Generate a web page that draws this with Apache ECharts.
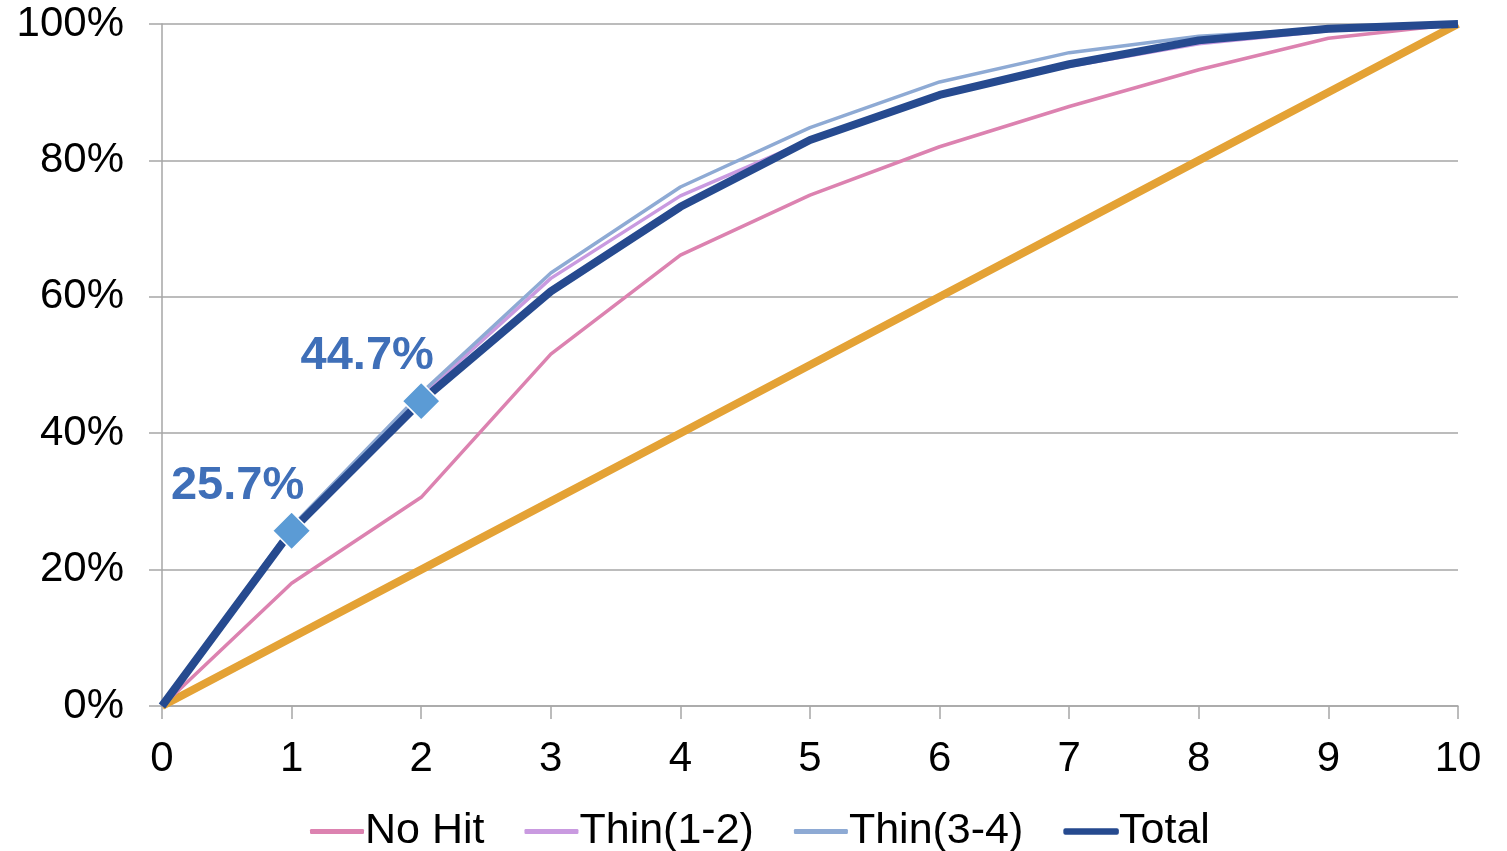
<!DOCTYPE html>
<html>
<head>
<meta charset="utf-8">
<script src="https://cdn.jsdelivr.net/npm/echarts@6/dist/echarts.min.js"></script>
<style>html,body{margin:0;padding:0;background:#fff}#c{width:1507px;height:851px}</style>
</head>
<body>
<div id="c"></div>
<script>
const xValues = [0, 1, 2, 3, 4, 5, 6, 7, 8, 9, 10];
const noHit   = [0, 18.0, 30.6, 51.6, 66.1, 74.9, 82.0, 87.9, 93.3, 97.9, 100];
const thin12  = [0, 26.0, 45.5, 62.7, 74.8, 83.0, 89.8, 93.8, 97.1, 99.0, 100];
const thin34  = [0, 26.3, 45.9, 63.5, 76.1, 84.8, 91.5, 95.8, 98.2, 99.3, 100];
const total   = [0, 25.7, 44.7, 60.8, 73.2, 83.0, 89.6, 94.1, 97.6, 99.3, 100];
const randomLine = [0, 10, 20, 30, 40, 50, 60, 70, 80, 90, 100];
const markedX = [1, 2];
const yTicks = [0, 20, 40, 60, 80, 100];

const pairs = arr => xValues.map((x, i) => [x, arr[i]]);
const font = '"Liberation Sans", Arial, sans-serif';

const chart = echarts.init(document.getElementById('c'), null, {renderer: 'canvas'});
chart.setOption({
  animation: false,
  backgroundColor: '#ffffff',
  grid: {left: 162, right: 49, top: 24, bottom: 145, containLabel: false},
  xAxis: {
    type: 'value', min: 0, max: 10, interval: 1,
    axisLine: {show: true, lineStyle: {color: '#a6a6a6', width: 1.5}},
    axisTick: {show: true, length: 13, lineStyle: {color: '#a6a6a6', width: 1.5}},
    axisLabel: {color: '#000', fontSize: 42, fontFamily: font, margin: 32},
    splitLine: {show: false}
  },
  yAxis: {
    type: 'value', min: yTicks[0], max: yTicks[yTicks.length - 1], interval: 20,
    axisLine: {show: true, lineStyle: {color: '#a6a6a6', width: 1.5}},
    axisTick: {show: true, length: 13, lineStyle: {color: '#a6a6a6', width: 1.5}},
    axisLabel: {color: '#000', fontSize: 42, fontFamily: font, margin: 38, formatter: '{value}%'},
    splitLine: {show: true, lineStyle: {color: '#a6a6a6', width: 1.5}}
  },
  legend: {
    data: [
      {name: 'No Hit', icon: 'roundRect'},
      {name: 'Thin(1-2)', icon: 'roundRect'},
      {name: 'Thin(3-4)', icon: 'roundRect'},
      {name: 'Total', icon: 'roundRect', itemStyle: {borderWidth: 1.5, borderColor: '#264a8f'}}
    ],
    left: 305, top: 805,
    itemWidth: 54, itemHeight: 5, itemGap: 40,
    textStyle: {color: '#000', fontSize: 43, fontFamily: font, padding: [0, 0, 0, -4]}
  },
  series: [
    {name: 'Random', type: 'line', data: pairs(randomLine), symbol: 'none',
     lineStyle: {color: '#e4a235', width: 8}, itemStyle: {color: '#e4a235'}, z: 2},
    {name: 'No Hit', type: 'line', data: pairs(noHit), symbol: 'none',
     lineStyle: {color: '#dc82b0', width: 3.5}, itemStyle: {color: '#dc82b0'}, z: 3},
    {name: 'Thin(1-2)', type: 'line', data: pairs(thin12), symbol: 'none',
     lineStyle: {color: '#c99ae0', width: 3.5}, itemStyle: {color: '#c99ae0'}, z: 4},
    {name: 'Thin(3-4)', type: 'line', data: pairs(thin34), symbol: 'none',
     lineStyle: {color: '#8eaad4', width: 3.5}, itemStyle: {color: '#8eaad4'}, z: 4},
    {name: 'Total', type: 'line', data: pairs(total), symbol: 'none',
     lineStyle: {color: '#264a8f', width: 8}, itemStyle: {color: '#264a8f'}, z: 5},
    {name: 'Marks', type: 'scatter', symbol: 'diamond', symbolSize: 38,
     data: markedX.map(x => [x, total[xValues.indexOf(x)]]),
     itemStyle: {color: '#5b9bd5', opacity: 1, borderColor: '#ffffff', borderWidth: 1.5},
     label: {show: true, position: 'inside', offset: [-54, -45],
             formatter: p => p.value[1].toFixed(1) + '%',
             color: '#3f6fb8', opacity: 1, fontSize: 47, fontWeight: 'bold', fontFamily: font},
     z: 6}
  ]
});
</script>
</body>
</html>
